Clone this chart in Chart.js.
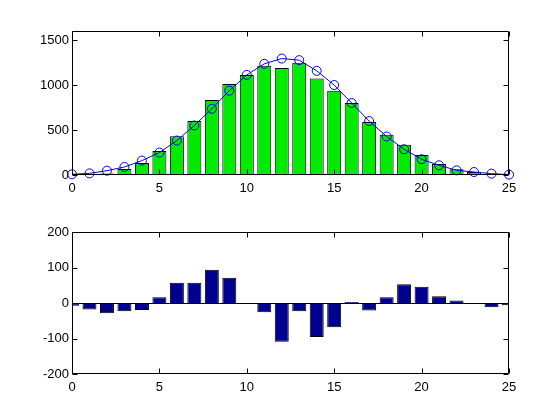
<!DOCTYPE html>
<html>
<head>
<meta charset="utf-8">
<script src="https://cdn.jsdelivr.net/npm/chart.js@4.4.1/dist/chart.umd.min.js"></script>
<style>
  body { margin: 0; background: #fff; }
  #wrap { position: relative; width: 560px; height: 420px; }
  canvas { position: absolute; left: 0; }
  #top { top: 0; }
  #bottom { top: 210px; }
</style>
</head>
<body>
<div id="wrap">
  <canvas id="top" width="560" height="210"></canvas>
  <canvas id="bottom" width="560" height="210"></canvas>
</div>
<script>
// Bin centres
const bins = [0, 1, 2, 3, 4, 5, 6, 7, 8, 9, 10, 11, 12, 13, 14, 15, 16, 17, 18, 19, 20, 21, 22, 23, 24, 25];

// Histogram counts (green bars)
const counts = [2, 4, 18, 67, 134, 268, 431, 599, 833, 1012, 1112, 1213, 1190,
                1246, 1071, 937, 800, 588, 446, 335, 223, 123, 63, 33, 15, 2];

// Fitted curve (blue circles)
const fitted = [8, 18, 48, 89, 160, 249, 383, 550, 736, 937, 1112, 1235, 1294,
                1276, 1157, 1000, 800, 599, 428, 286, 175, 108, 52, 33, 15, 4];

// Residuals (dark blue bars)
const residuals = [-8, -18, -29, -23, -20, 16, 57, 57, 94, 71, 0, -26, -109,
                   -23, -96, -68, 3, -21, 16, 53, 46, 19, 7, -3, -12, -6];

// Tick labels
const xTicks = [0, 5, 10, 15, 20, 25];
const topYTicks = [0, 500, 1000, 1500];
const bottomYTicks = [-200, -100, 0, 100, 200];

const FONT = { family: "'Liberation Sans', Arial, sans-serif", size: 13 };
const TICK_LEN = 5;

function pts(ys) {
    return bins.map((x, i) => ({ x: x, y: ys[i] }));
}

// MATLAB-like box with inward ticks on all four sides, plus zero baseline
const boxPlugin = {
    id: 'matlabBox',
    afterDatasetsDraw(chart) {
        const { ctx, chartArea: a, scales } = chart;
        const x = scales.x, y = scales.y;
        const L = Math.round(a.left) + 0.5, R = Math.round(a.right) - 0.5;
        const T = Math.round(a.top) + 0.5, B = Math.round(a.bottom) - 0.5;
        ctx.save();
        ctx.strokeStyle = '#000';
        ctx.lineWidth = 1;
        ctx.beginPath();
        if (y.min < 0) {
            const py = Math.round(y.getPixelForValue(0)) + 0.5;
            ctx.moveTo(L, py); ctx.lineTo(R, py);
        }
        ctx.rect(L, T, R - L, B - T);
        x.ticks.forEach(t => {
            const px = Math.round(x.getPixelForValue(t.value)) + 0.5;
            ctx.moveTo(px, B); ctx.lineTo(px, B - TICK_LEN);
            ctx.moveTo(px, T); ctx.lineTo(px, T + TICK_LEN);
        });
        y.ticks.forEach(t => {
            const py = Math.round(y.getPixelForValue(t.value)) + 0.5;
            ctx.moveTo(L, py); ctx.lineTo(L + TICK_LEN, py);
            ctx.moveTo(R, py); ctx.lineTo(R - TICK_LEN, py);
        });
        ctx.stroke();
        ctx.restore();
    }
};

function axes(yMin, yMax, yTicks, xHeight) {
    return {
        x: {
            type: 'linear',
            min: 0,
            max: 25,
            offset: false,
            afterBuildTicks: s => { s.ticks = xTicks.map(v => ({ value: v })); },
            afterFit: s => { s.height = xHeight; },
            grid: { display: false, drawTicks: false },
            border: { display: false },
            ticks: { color: '#000', font: FONT, padding: 6, maxRotation: 0, autoSkip: false,
                     callback: v => String(v) }
        },
        y: {
            min: yMin,
            max: yMax,
            afterBuildTicks: s => { s.ticks = yTicks.map(v => ({ value: v })); },
            afterFit: s => { s.width = 72; },
            grid: { display: false, drawTicks: false },
            border: { display: false },
            ticks: { color: '#000', font: FONT, padding: 3, autoSkip: false,
                     callback: v => String(v) }
        }
    };
}

const common = {
    responsive: false,
    animation: false,
    devicePixelRatio: 1,
    plugins: { legend: { display: false }, tooltip: { enabled: false } }
};

new Chart(document.getElementById('top'), {
    type: 'bar',
    data: {
        datasets: [{
            type: 'line',
            data: pts(fitted),
            borderColor: 'rgb(0, 0, 230)',
            borderWidth: 1,
            tension: 0,
            pointStyle: 'circle',
            pointRadius: 4.5,
            pointBackgroundColor: 'rgba(0,0,0,0)',
            pointBorderColor: 'rgb(0, 0, 230)',
            pointBorderWidth: 1,
            clip: false,
            order: 0
        }, {
            data: pts(counts),
            backgroundColor: 'rgb(0, 235, 0)',
            borderColor: '#000',
            borderWidth: 1,
            barPercentage: 0.8,
            categoryPercentage: 1,
            clip: 0,
            order: 1
        }]
    },
    options: Object.assign({}, common, {
        layout: { padding: { left: 0, right: 51, top: 31, bottom: 0 } },
        scales: axes(0, 1600, topYTicks, 35)
    }),
    plugins: [boxPlugin]
});

new Chart(document.getElementById('bottom'), {
    type: 'bar',
    data: {
        datasets: [{
            data: pts(residuals),
            backgroundColor: 'rgb(0, 0, 143)',
            borderColor: '#000',
            borderWidth: 1,
            barPercentage: 0.8,
            categoryPercentage: 1,
            clip: 0
        }]
    },
    options: Object.assign({}, common, {
        layout: { padding: { left: 0, right: 51, top: 22, bottom: 0 } },
        scales: axes(-200, 200, bottomYTicks, 46)
    }),
    plugins: [boxPlugin]
});
</script>
</body>
</html>
